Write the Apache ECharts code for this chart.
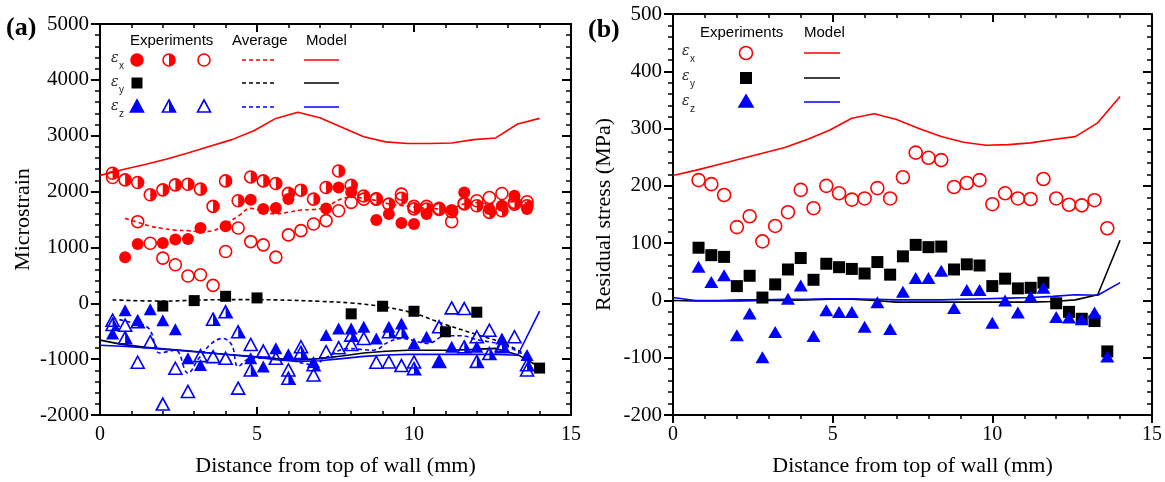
<!DOCTYPE html>
<html><head><meta charset="utf-8">
<script src="https://cdn.jsdelivr.net/npm/echarts@6/dist/echarts.min.js"></script>
<style>html,body{margin:0;padding:0;background:#fff}#c{width:1165px;height:482px}</style>
</head><body><div id="c"></div>
<script>
// ---------- Panel (a): microstrain ----------
const aRedFullX = [0.8,1.2,2.0,2.4,2.8,3.2,4.0,4.8,5.2,5.6,6.0,7.2,7.6,8.0,8.8,9.2,9.6,10.0,10.4,11.2,11.6,12.4,12.8,13.2,13.6];
const aRedFullY = [826,1063,1081,1140,1152,1348,1378,1853,1687,1705,1865,1699,2073,1990,1491,1598,1438,1420,1598,1669,1984,1687,1746,1924,1687];
const aRedHalfX = [0.4,0.8,1.2,1.6,2.0,2.4,2.8,3.2,3.6,4.0,4.4,4.8,5.2,5.6,6.0,6.4,6.8,7.2,7.6,8.0,8.4,8.8,9.2,9.6,10.0,10.4,10.8,11.2,11.6,12.0,12.4,12.8,13.2,13.6];
const aRedHalfY = [2328,2209,2162,1942,2031,2120,2132,2043,1735,2191,1835,2262,2191,2144,1967,2025,1865,2073,2369,2114,1920,1870,1776,1880,1690,1687,1680,1640,1780,1746,1628,1657,1776,1746];
const aRedOpenX = [0.4,1.2,1.6,2.0,2.4,2.8,3.2,3.6,4.0,4.4,4.8,5.2,5.6,6.0,6.4,6.8,7.2,7.6,8.0,8.4,8.8,9.6,10.0,10.4,10.8,11.2,11.6,12.0,12.4,12.8,13.2,13.6];
const aRedOpenY = [2251,1461,1075,808,689,488,511,321,927,1348,1104,1046,826,1224,1300,1420,1479,1657,1806,1865,1865,1954,1735,1735,1699,1461,1788,1835,1895,1966,1806,1817];
const aSqX = [2,3,4,5,8,9,10,11,12,14];
const aSqY = [-50,48,125,96,-189,-53,-143,-510,-160,-1160];
const aBlueFullX = [0.4,0.8,1.2,1.6,2.0,2.4,2.8,3.2,4.8,5.2,5.6,6.0,6.8,7.2,7.6,8.0,8.4,8.8,9.2,9.6,10.0,10.4,10.8,11.2,12.0,12.8,13.6];
const aBlueFullY = [-540,-125,-303,-107,-303,-463,-985,-1104,-985,-1133,-807,-914,-1050,-570,-451,-451,-421,-629,-421,-362,-718,-599,-1044,-780,-778,-629,-926];
const aBlueHalfX = [0.4,0.8,1.2,3.6,4.0,4.4,4.8,6.0,6.4,6.8,8.0,9.2,9.6,10.0,10.8,11.6,12.0,12.4,12.8,13.6];
const aBlueHalfY = [-380,-616,-330,-285,-153,-510,-1193,-1341,-880,-1100,-570,-510,-510,-1170,-1040,-780,-1040,-900,-780,-1100];
const aBlueOpenX = [0.4,0.8,1.2,1.6,2.0,2.4,2.8,3.2,3.6,4.0,4.4,4.8,5.2,5.6,6.0,6.4,6.8,7.2,7.6,8.0,8.4,8.8,9.2,9.6,10.0,10.8,11.2,11.6,12.0,12.4,12.8,13.2,13.6];
const aBlueOpenY = [-303,-392,-1056,-688,-1804,-1163,-1578,-937,-955,-985,-1519,-736,-855,-985,-1193,-778,-1282,-867,-795,-736,-629,-1056,-1050,-1115,-1050,-421,-82,-94,-599,-481,-751,-599,-1193];

const aAvgRedX = [0.8,1.2,1.6,2.0,2.4,2.8,3.2,3.6,4.0,4.4,4.8,5.2,5.6,6.0,6.4,6.8,7.2,7.6,8.0,8.4,8.8,9.2,9.6,10.0,10.4,10.8,11.2,11.6,12.0,12.4,12.8,13.2,13.6];
const aAvgRedY = [1520,1450,1380,1340,1310,1300,1280,1300,1420,1560,1700,1640,1600,1630,1670,1680,1720,1850,1900,1880,1840,1780,1750,1720,1700,1690,1700,1780,1800,1780,1790,1820,1800];
const aAvgBlackX = [0.4,2,3,4,5,6,7,8,9,10,11,12,13,13.7];
const aAvgBlackY = [60,40,55,65,65,55,35,5,-60,-180,-380,-560,-750,-980];
const aAvgBlueX = [0.4,0.9,1.55,1.9,2.4,2.8,3.15,3.55,3.9,4.2,4.4,4.8,5.4,6.0,6.8,7.2,7.9,8.7,9.2,9.6,10.45,11.0,11.5,12.0,12.85,13.7];
const aAvgBlueY = [-270,-330,-450,-890,-840,-1250,-985,-720,-630,-750,-1130,-985,-985,-1015,-1100,-970,-810,-840,-690,-630,-720,-580,-580,-650,-750,-985];

const modelX = [0,0.7,1.4,2.1,2.8,3.5,4.2,4.9,5.6,6.3,7.0,7.7,8.4,9.1,9.8,10.5,11.2,11.9,12.6,13.3,14.0];
const aModelXY = [2290,2390,2480,2580,2690,2810,2930,3090,3310,3420,3320,3150,2980,2890,2860,2860,2870,2930,2960,3210,3310];
const aModelYY = [-660,-735,-785,-820,-850,-890,-920,-955,-990,-1015,-990,-945,-890,-860,-840,-840,-840,-825,-808,-920,-1140];
const aModelZY = [-750,-770,-795,-825,-860,-890,-925,-960,-1010,-1040,-1030,-990,-950,-925,-915,-915,-915,-915,-915,-930,-140];

// ---------- Panel (b): residual stress ----------
const bX = [0.8,1.2,1.6,2.0,2.4,2.8,3.2,3.6,4.0,4.4,4.8,5.2,5.6,6.0,6.4,6.8,7.2,7.6,8.0,8.4,8.8,9.2,9.6,10.0,10.4,10.8,11.2,11.6,12.0,12.4,12.8,13.2,13.6];
const bStressX = [210,203,184,128,147,103,130,154,193,161,200,187,176,178,196,178,215,258,249,245,198,205,210,168,187,178,177,212,178,167,166,175,126];
const bStressY = [92,79,76,25,43,5,28,54,74,36,64,58,55,47,67,45,77,97,93,94,54,63,61,25,38,21,22,31,-5,-20,-32,-36,-89];
const bStressZ = [59,32,44,-61,-23,-99,-55,3,26,-62,-17,-20,-20,-46,-3,-50,15,39,39,52,-13,18,18,-39,0,-21,7,22,-29,-30,-33,-21,-98];
const bModelXY = [218,227,237,247,257,267,281,297,318,326,316,300,286,276,271,272,275,281,286,310,356];
const bModelYY = [0,-1,-1,-1,0,0,1,2,2,0,-3,-3,-3,-3,-3,-3,-3,-2,1,10,105];
const bModelZY = [5,0,0,1,1,2,2,3,3,2,1,1,1,2,3,4,5,7,10,9,31];

const xTicks = [0, 5, 10, 15];
const aYRange = [-2000, 5000];
const bYRange = [-200, 500];

// ---------- build ----------
const RED = '#ff0000', BLUE = '#0000ff', BLACK = '#000000';
const SERIF = 'Liberation Serif', SANS = 'Liberation Sans';
const zip = (xs, ys) => xs.map((x, i) => [x, ys[i]]);
const HALF_CIRCLE = 'path://M0,0 A10,10 0 0 1 0,20 Z';
const HALF_TRI = 'path://M0,0 L10,20 L0,20 Z';
const plain = v => String(v);

function xAxis(grid, pos, label, inside, title) {
  return {
    type: 'value', gridIndex: grid, position: pos, min: xTicks[0], max: xTicks[xTicks.length - 1], interval: 5,
    axisLine: { show: true, onZero: false, lineStyle: { color: BLACK, width: 2 } },
    axisTick: { show: true, inside: inside, length: 8, lineStyle: { color: BLACK, width: 2 } },
    minorTick: { show: true, splitNumber: 5, length: 4, lineStyle: { color: BLACK, width: 1.5 } },
    axisLabel: { show: label, fontFamily: SERIF, fontSize: 20, color: BLACK, margin: 10, formatter: plain },
    splitLine: { show: false }, minorSplitLine: { show: false },
    name: title || '', nameLocation: 'middle', nameGap: 40,
    nameTextStyle: { fontFamily: SERIF, fontSize: 22, color: BLACK }
  };
}
function yAxis(grid, pos, range, step, label, inside, title, gap) {
  return {
    type: 'value', gridIndex: grid, position: pos, min: range[0], max: range[1], interval: step,
    axisLine: { show: true, onZero: false, lineStyle: { color: BLACK, width: 2 } },
    axisTick: { show: true, inside: inside, length: 9, lineStyle: { color: BLACK, width: 2 } },
    minorTick: { show: true, splitNumber: 5, length: 5, lineStyle: { color: BLACK, width: 1.5 } },
    axisLabel: { show: label, fontFamily: SERIF, fontSize: 21, color: BLACK, margin: 11, formatter: plain },
    splitLine: { show: false }, minorSplitLine: { show: false },
    name: title || '', nameLocation: 'middle', nameGap: gap || 0,
    nameTextStyle: { fontFamily: SERIF, fontSize: 22, color: BLACK }
  };
}

function filled(xi, yi, data, symbol, color, size) {
  return { type: 'scatter', xAxisIndex: xi, yAxisIndex: yi, data: data, symbol: symbol, symbolSize: size,
    itemStyle: { color: color, opacity: 1 }, z: 5, silent: true };
}
function hollow(xi, yi, data, symbol, color, size) {
  return { type: 'scatter', xAxisIndex: xi, yAxisIndex: yi, data: data, symbol: symbol, symbolSize: size,
    itemStyle: { color: 'rgba(0,0,0,0)', borderColor: color, borderWidth: 1.6, opacity: 1 }, z: 5, silent: true };
}
function half(xi, yi, data, path, color, size) {
  return { type: 'scatter', xAxisIndex: xi, yAxisIndex: yi, data: data, symbol: path,
    symbolSize: [size[0] / 2, size[1]], symbolOffset: [size[0] / 4, 0],
    itemStyle: { color: color, opacity: 1 }, z: 5, silent: true };
}
function line(xi, yi, data, color, dashed, smooth) {
  return { type: 'line', xAxisIndex: xi, yAxisIndex: yi, data: data, showSymbol: false, smooth: smooth || false,
    lineStyle: { color: color, width: 1.6, type: dashed ? [4, 3] : 'solid' }, z: 3, silent: true };
}

const CS = 12, TS = [13, 12], SQ = 11;
const CSb = 13, TSb = [14, 12], SQb = 12;

const series = [
  line(0, 0, zip(aAvgRedX, aAvgRedY), RED, true, 0.4),
  line(0, 0, zip(aAvgBlackX, aAvgBlackY), BLACK, true, 0.4),
  line(0, 0, zip(aAvgBlueX, aAvgBlueY), BLUE, true, 0.4),
  line(0, 0, zip(modelX, aModelXY), RED, false),
  line(0, 0, zip(modelX, aModelYY), BLACK, false),
  line(0, 0, zip(modelX, aModelZY), BLUE, false),
  hollow(0, 0, zip(aRedOpenX, aRedOpenY), 'circle', RED, CS),
  hollow(0, 0, zip(aBlueOpenX, aBlueOpenY), 'triangle', BLUE, TS),
  hollow(0, 0, zip(aRedHalfX, aRedHalfY), 'circle', RED, CS),
  half(0, 0, zip(aRedHalfX, aRedHalfY), HALF_CIRCLE, RED, [CS, CS]),
  hollow(0, 0, zip(aBlueHalfX, aBlueHalfY), 'triangle', BLUE, TS),
  half(0, 0, zip(aBlueHalfX, aBlueHalfY), HALF_TRI, BLUE, TS),
  filled(0, 0, zip(aRedFullX, aRedFullY), 'circle', RED, CS),
  filled(0, 0, zip(aBlueFullX, aBlueFullY), 'triangle', BLUE, TS),
  filled(0, 0, zip(aSqX, aSqY), 'rect', BLACK, SQ),
  line(2, 2, zip(modelX, bModelXY), RED, false),
  line(2, 2, zip(modelX, bModelYY), BLACK, false),
  line(2, 2, zip(modelX, bModelZY), BLUE, false),
  hollow(2, 2, zip(bX, bStressX), 'circle', RED, CSb),
  filled(2, 2, zip(bX, bStressY), 'rect', BLACK, SQb),
  filled(2, 2, zip(bX, bStressZ), 'triangle', BLUE, TSb)
];

function txt(x, y, s, size, opts) {
  return Object.assign({ type: 'text', x: x, y: y, silent: true,
    style: Object.assign({ text: s, fontFamily: SANS, fontSize: size, fill: BLACK, align: 'left', verticalAlign: 'middle' }, opts || {}) });
}
function eps(x, y, sub) {
  return [
    txt(x, y - 2, 'ε', 14, { fontStyle: 'italic', fill: '#222', fontFamily: 'DejaVu Serif' }),
    txt(x + 8, y + 6, sub, 10, { fill: '#222' })
  ];
}
const gCircle = (cx, cy, r, color, fill) => ({ type: 'circle', shape: { cx, cy, r }, silent: true,
  style: { fill: fill ? color : 'none', stroke: color, lineWidth: 1.6 } });
const gHalfCircle = (cx, cy, r, color) => [gCircle(cx, cy, r, color, false),
  { type: 'sector', silent: true, shape: { cx, cy, r: r, r0: 0, startAngle: -Math.PI / 2, endAngle: Math.PI / 2, clockwise: true }, style: { fill: color } }];
const gTri = (cx, cy, w, h, color, fill) => ({ type: 'polygon', silent: true,
  shape: { points: [[cx, cy - h / 2], [cx + w / 2, cy + h / 2], [cx - w / 2, cy + h / 2]] },
  style: { fill: fill ? color : 'none', stroke: color, lineWidth: 1.6 } });
const gHalfTri = (cx, cy, w, h, color) => [gTri(cx, cy, w, h, color, false),
  { type: 'polygon', silent: true, shape: { points: [[cx, cy - h / 2], [cx + w / 2, cy + h / 2], [cx, cy + h / 2]] }, style: { fill: color } }];
const gRect = (cx, cy, s, color) => ({ type: 'rect', silent: true, shape: { x: cx - s / 2, y: cy - s / 2, width: s, height: s }, style: { fill: color } });
const gLine = (x1, x2, y, color, dashed) => ({ type: 'line', silent: true, shape: { x1, y1: y, x2, y2: y },
  style: { stroke: color, lineWidth: 1.6, lineDash: dashed ? [4, 3] : null } });

const graphics = [].concat(
  [txt(6, 28, '(a)', 26, { fontFamily: SERIF, fontWeight: 'bold' }),
   txt(588, 30, '(b)', 26, { fontFamily: SERIF, fontWeight: 'bold' })],
  [txt(130, 41, 'Experiments', 15), txt(232, 41, 'Average', 15), txt(306, 41, 'Model', 15)],
  eps(111, 60, 'x'), eps(111, 84, 'y'), eps(111, 108, 'z'),
  [gCircle(137, 60, 6, RED, true)], gHalfCircle(169, 60, 6, RED), [gCircle(204, 60, 6, RED, false)],
  [gRect(137, 83, 11, BLACK)],
  [gTri(137, 106, 13, 12, BLUE, true)], gHalfTri(169, 106, 13, 12, BLUE), [gTri(204, 106, 13, 12, BLUE, false)],
  [gLine(242, 277, 60, RED, true), gLine(242, 277, 83, BLACK, true), gLine(242, 277, 107, BLUE, true),
   gLine(304, 339, 60, RED, false), gLine(304, 339, 83, BLACK, false), gLine(304, 339, 107, BLUE, false)],
  [txt(700, 33, 'Experiments', 15), txt(804, 33, 'Model', 15)],
  eps(682, 53, 'x'), eps(682, 78, 'y'), eps(682, 103, 'z'),
  [gCircle(746, 53, 6.5, RED, false), gRect(746, 78, 12, BLACK), gTri(746, 101, 14, 12, BLUE, true),
   gLine(804, 840, 53, RED, false), gLine(804, 840, 78, BLACK, false), gLine(804, 840, 102, BLUE, false)]
);

const option = {
  animation: false,
  backgroundColor: '#fff',
  grid: [
    { left: 100, top: 24, width: 471, height: 393 },
    { left: 673, top: 14, width: 480, height: 403 }
  ],
  xAxis: [
    xAxis(0, 'bottom', true, true, 'Distance from top of wall (mm)'),
    xAxis(0, 'top', false, true),
    xAxis(1, 'bottom', true, false, 'Distance from top of wall (mm)'),
    xAxis(1, 'top', false, true)
  ],
  yAxis: [
    yAxis(0, 'left', aYRange, 1000, true, false, 'Microstrain', 66),
    yAxis(0, 'right', aYRange, 1000, false, true),
    yAxis(1, 'left', bYRange, 100, true, false, 'Residual stress (MPa)', 58),
    yAxis(1, 'right', bYRange, 100, false, true)
  ],
  series: series,
  graphic: { elements: graphics }
};
const chart = echarts.init(document.getElementById('c'), null, { renderer: 'canvas' });
chart.setOption(option);
</script></body></html>
